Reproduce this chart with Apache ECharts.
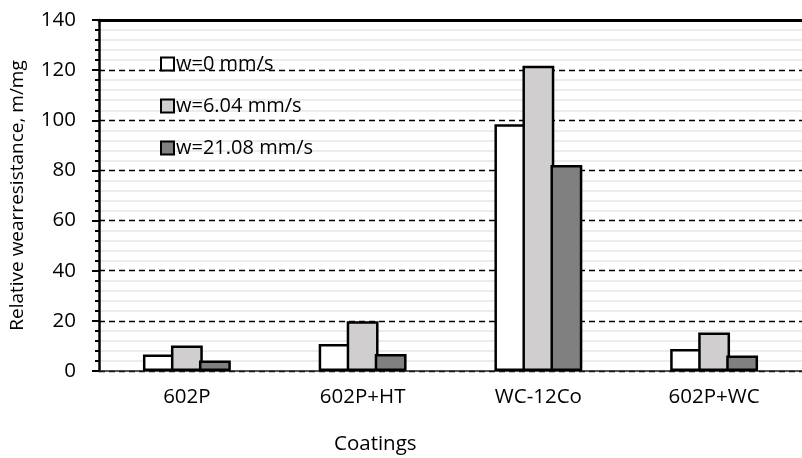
<!DOCTYPE html>
<html>
<head>
<meta charset="utf-8">
<script src="https://cdn.jsdelivr.net/npm/echarts@6/dist/echarts.min.js"></script>
<style>html,body{margin:0;padding:0;background:#fff}#c{width:802px;height:458px}</style>
</head>
<body>
<div id="c"></div>
<script>
const categories = ['602P', '602P+HT', 'WC-12Co', '602P+WC'];
const seriesNames = ['w=0 mm/s', 'w=6.04 mm/s', 'w=21.08 mm/s'];
const w0 = [6.6, 10.8, 98.4, 8.8];
const w604 = [10.2, 19.8, 121.8, 15.4];
const w2108 = [4.2, 6.8, 82.2, 6.2];
const yTicks = [0, 20, 40, 60, 80, 100, 120, 140];

const FONT = 'Open Sans';
const fills = ['#ffffff', '#d0cece', '#808080'];
const values = [w0, w604, w2108];

const chart = echarts.init(document.getElementById('c'), null, {renderer: 'canvas'});
chart.setOption({
  animation: false,
  backgroundColor: '#fff',
  grid: {left: 98, right: -8, top: 20, bottom: 87, containLabel: false},
  legend: {
    orient: 'vertical', left: 155, top: 49,
    itemWidth: 13, itemHeight: 13, itemGap: 22,
    icon: 'rect',
    textStyle: {fontFamily: FONT, fontSize: 20, color: '#000', padding: [0, 0, 0, -3]},
    data: seriesNames
  },
  xAxis: [{
    type: 'category', data: categories,
    axisLine: {lineStyle: {color: '#222', width: 1.5}},
    axisTick: {show: false},
    axisLabel: {fontFamily: FONT, fontSize: 20.5, color: '#000', margin: 16},
    splitLine: {show: false}
  }, {
    type: 'category', data: categories, position: 'top',
    axisLine: {lineStyle: {color: '#000', width: 3}},
    axisTick: {show: false}, axisLabel: {show: false}
  }],
  yAxis: {
    type: 'value', min: yTicks[0], max: yTicks[yTicks.length - 1], interval: 20,
    name: 'Relative wearresistance, m/mg', nameLocation: 'middle', nameGap: 72,
    nameTextStyle: {fontFamily: FONT, fontSize: 19, color: '#000'},
    axisLine: {show: true, lineStyle: {color: '#000', width: 2.5}},
    axisTick: {show: true, inside: false, length: 7, lineStyle: {color: '#000', width: 2}},
    minorTick: {show: true, splitNumber: 5, length: 4, lineStyle: {color: '#000', width: 2}},
    axisLabel: {fontFamily: FONT, fontSize: 20.5, color: '#000', margin: 23},
    splitLine: {show: true, lineStyle: {color: '#000', width: 1.3, type: [6, 4]}},
    minorSplitLine: {show: true, lineStyle: {color: '#ececec', width: 2}}
  },
  graphic: [{
    type: 'text', left: 334, top: 434,
    style: {text: 'Coatings', font: '20.5px "Open Sans"', fill: '#000'}
  }],
  series: seriesNames.map((n, i) => ({
    name: n, type: 'bar', data: values[i],
    barCategoryGap: '50%', barGap: '-12%',
    itemStyle: {color: fills[i], borderColor: '#000', borderWidth: 2.5}
  }))
});
</script>
</body>
</html>
